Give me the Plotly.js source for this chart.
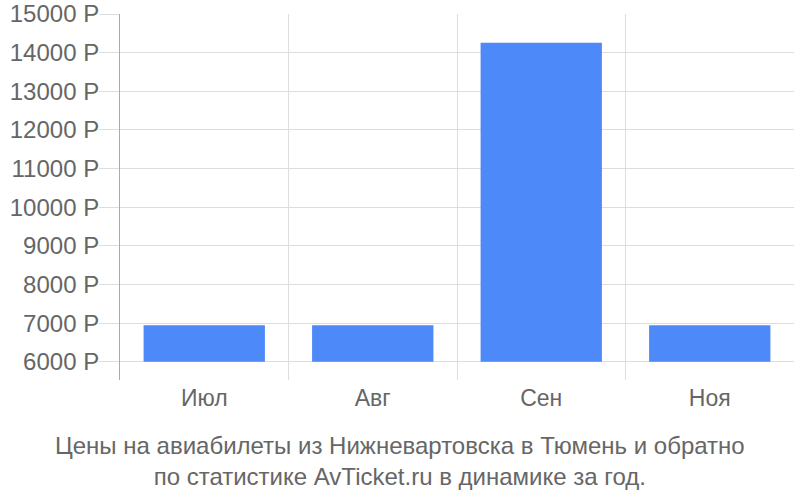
<!DOCTYPE html>
<html>
<head>
<meta charset="utf-8">
<script src="https://cdn.plot.ly/plotly-3.0.1.min.js"></script>
<style>
  html, body { margin: 0; padding: 0; background: #fff; }
  #chart { width: 800px; height: 500px; }
</style>
</head>
<body>
<div id="chart"></div>
<script>
// ─── Data ───
const months = ["Июл", "Авг", "Сен", "Ноя"];
const prices = [6945, 6945, 14258, 6945];
const priceBase = 6000;
const yTicks = [6000, 7000, 8000, 9000, 10000, 11000, 12000, 13000, 14000, 15000];
const yTickText = yTicks.map((v) => v + " Р");
const boundaries = [-0.5, 0.5, 1.5, 2.5, 3.5];
const chartTitle = "Цены на авиабилеты из Нижневартовска в Тюмень и обратно<br>по статистике AvTicket.ru в динамике за год.";

const gridColor = "#dddddd";
const textColor = "#666666";
const family = "Liberation Sans, Arial, sans-serif";
const font = { family: family, size: 23, color: textColor };
const bigFont = { family: family, size: 24, color: textColor };

Plotly.newPlot(
  "chart",
  [
    {
      x: months.map((m, i) => i),
      y: prices.map((p) => p - priceBase),
      base: priceBase,
      type: "bar",
      width: 0.72,
      marker: { color: "#4d89f9" },
      hoverinfo: "skip",
    },
    // invisible trace so the boundary grid on xaxis2 is drawn
    {
      x: boundaries,
      y: boundaries.map(() => priceBase),
      xaxis: "x2",
      type: "scatter",
      mode: "none",
      hoverinfo: "skip",
    },
  ],
  {
    width: 800,
    height: 500,
    margin: { l: 120, r: 6, t: 14, b: 120 },
    paper_bgcolor: "#fff",
    plot_bgcolor: "#fff",
    font: font,
    showlegend: false,
    xaxis: {
      range: [-0.5, 3.5],
      tickvals: months.map((m, i) => i),
      ticktext: months,
      showgrid: false,
      zeroline: false,
      showline: false,
      ticks: "",
      ticklabelstandoff: 2,
      tickfont: font,
      fixedrange: true,
    },
    xaxis2: {
      overlaying: "x",
      range: [-0.5, 3.5],
      tickvals: boundaries,
      showticklabels: false,
      showgrid: true,
      gridcolor: gridColor,
      gridwidth: 1,
      ticks: "",
      zeroline: false,
      anchor: "y",
      side: "bottom",
    },
    yaxis: {
      range: [5530, 15000],
      tickvals: yTicks,
      ticktext: yTickText,
      showgrid: true,
      gridcolor: gridColor,
      gridwidth: 1,
      ticks: "outside",
      ticklen: 20,
      tickcolor: gridColor,
      ticklabelstandoff: -5,
      showline: true,
      linecolor: "#aaaaaa",
      linewidth: 1,
      zeroline: false,
      tickfont: bigFont,
      fixedrange: true,
    },
    annotations: [
      {
        text: chartTitle,
        font: bigFont,
        showarrow: false,
        xref: "paper",
        yref: "paper",
        x: (400 - 120) / 674,
        xanchor: "center",
        y: -80.5 / 366,
        yanchor: "middle",
        align: "center",
      },
    ],
  },
  { displayModeBar: false, staticPlot: true },
);
</script>
</body>
</html>
